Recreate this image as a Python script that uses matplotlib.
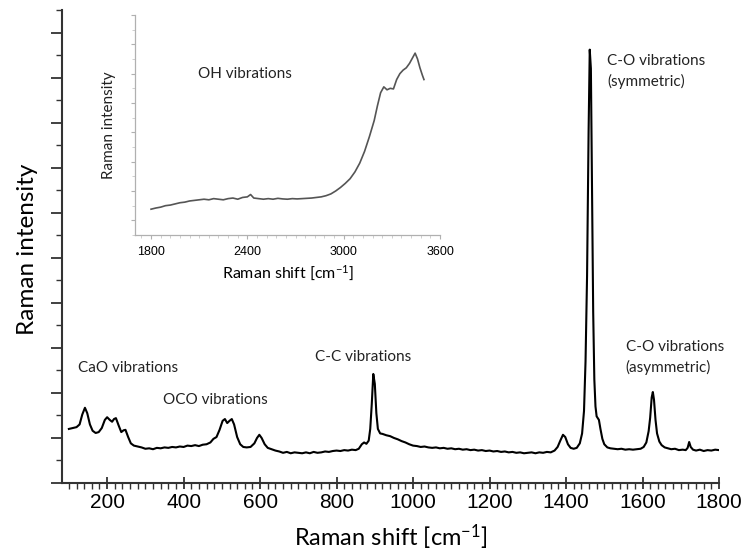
import matplotlib
matplotlib.use('Agg')
import matplotlib.pyplot as plt
from matplotlib.ticker import MultipleLocator, NullFormatter

plt.rcParams['mathtext.fontset'] = 'custom'
plt.rcParams['mathtext.rm'] = 'Lato'
plt.rcParams['mathtext.default'] = 'regular'

# main spectrum (Raman shift in cm-1, intensity in arbitrary units)
shift = [100, 110, 120, 128, 135, 142, 148, 155, 162, 170, 178, 186, 194, 200, 207, 213, 218, 223, 230, 237,
         243, 248, 255, 262, 270, 280, 290, 300, 310, 320, 330, 340, 350, 360, 370, 380, 390, 400, 410, 420,
         430, 440, 450, 460, 470, 478, 486, 494, 502, 508, 514, 520, 526, 532, 540, 548, 556, 565, 575, 585,
         592, 598, 604, 612, 620, 630, 640, 650, 660, 670, 680, 690, 700, 710, 720, 730, 740, 750, 760, 770,
         780, 790, 800, 810, 820, 830, 840, 850, 858, 866, 872, 878, 884, 888, 892, 896, 900, 904, 908, 914,
         920, 930, 940, 950, 960, 970, 980, 990, 1000, 1010, 1020, 1030, 1040, 1050, 1060, 1070, 1080, 1090,
         1100, 1110, 1120, 1130, 1140, 1150, 1160, 1170, 1180, 1190, 1200, 1210, 1220, 1230, 1240, 1250, 1260,
         1270, 1280, 1290, 1300, 1310, 1320, 1330, 1340, 1350, 1360, 1370, 1378, 1385, 1392, 1398, 1405, 1412,
         1420, 1428, 1436, 1442, 1447, 1451, 1455, 1459, 1462, 1465, 1468, 1471, 1474, 1477, 1480, 1483, 1486,
         1490, 1495, 1500, 1508, 1516, 1525, 1535, 1545, 1555, 1565, 1575, 1585, 1595, 1603, 1610, 1616, 1620,
         1624, 1627, 1630, 1634, 1638, 1644, 1650, 1658, 1666, 1675, 1685, 1695, 1705, 1713, 1718, 1722, 1726,
         1732, 1740, 1750, 1760, 1770, 1780, 1790, 1800]
intensity = [1.20, 1.22, 1.24, 1.30, 1.52, 1.67, 1.55, 1.30, 1.16, 1.11, 1.13, 1.22, 1.40, 1.46, 1.40, 1.36, 1.42,
             1.44, 1.28, 1.13, 1.17, 1.18, 1.02, 0.88, 0.83, 0.81, 0.79, 0.76, 0.77, 0.75, 0.78, 0.77, 0.79, 0.78,
             0.80, 0.79, 0.81, 0.80, 0.83, 0.82, 0.84, 0.82, 0.85, 0.86, 0.90, 0.98, 1.02, 1.18, 1.38, 1.42, 1.33,
             1.38, 1.42, 1.30, 1.02, 0.86, 0.80, 0.79, 0.80, 0.88, 1.00, 1.07, 1.00, 0.86, 0.78, 0.75, 0.72, 0.70,
             0.67, 0.69, 0.66, 0.68, 0.67, 0.66, 0.68, 0.66, 0.69, 0.67, 0.68, 0.70, 0.69, 0.71, 0.72, 0.71, 0.73,
             0.72, 0.74, 0.73, 0.76, 0.86, 0.90, 0.87, 0.94, 1.20, 1.75, 2.42, 2.20, 1.55, 1.20, 1.10, 1.09, 1.06,
             1.04, 1.00, 0.97, 0.93, 0.90, 0.86, 0.83, 0.82, 0.80, 0.81, 0.79, 0.78, 0.79, 0.77, 0.78, 0.76, 0.77,
             0.75, 0.76, 0.74, 0.75, 0.73, 0.74, 0.72, 0.73, 0.71, 0.72, 0.70, 0.71, 0.69, 0.70, 0.68, 0.69, 0.67,
             0.68, 0.66, 0.67, 0.68, 0.66, 0.68, 0.67, 0.69, 0.68, 0.72, 0.80, 0.94, 1.07, 1.02, 0.86, 0.78, 0.76,
             0.78, 0.88, 1.10, 1.60, 2.70, 4.60, 7.80, 9.62, 9.20, 6.60, 3.80, 2.30, 1.70, 1.48, 1.44, 1.40, 1.20,
             0.98, 0.86, 0.79, 0.77, 0.76, 0.75, 0.76, 0.74, 0.75, 0.74, 0.75, 0.76, 0.80, 0.90, 1.15, 1.45, 1.90,
             2.02, 1.85, 1.40, 1.10, 0.92, 0.84, 0.79, 0.77, 0.75, 0.76, 0.73, 0.74, 0.73, 0.78, 0.91, 0.80, 0.74,
             0.72, 0.74, 0.71, 0.73, 0.72, 0.74, 0.73]

# inset: OH stretching region
oh_shift = [1800, 1830, 1860, 1890, 1920, 1950, 1980, 2010, 2040, 2070, 2100, 2130, 2160, 2190, 2220, 2250,
            2280, 2310, 2340, 2370, 2400, 2420, 2440, 2470, 2500, 2530, 2560, 2590, 2620, 2650, 2680, 2710,
            2740, 2770, 2800, 2830, 2860, 2890, 2920, 2950, 2980, 3010, 3040, 3070, 3100, 3130, 3160, 3190,
            3210, 3230, 3250, 3270, 3290, 3310, 3330, 3350, 3370, 3390, 3410, 3430, 3445, 3460, 3475, 3490, 3500]
oh_intensity = [0.88, 0.92, 0.95, 1.00, 1.02, 1.06, 1.10, 1.12, 1.16, 1.18, 1.20, 1.22, 1.20, 1.24, 1.22, 1.20,
                1.24, 1.26, 1.22, 1.28, 1.30, 1.38, 1.26, 1.24, 1.22, 1.24, 1.22, 1.25, 1.23, 1.22, 1.24, 1.23,
                1.24, 1.25, 1.26, 1.28, 1.30, 1.34, 1.40, 1.50, 1.62, 1.76, 1.92, 2.15, 2.45, 2.85, 3.35, 3.90,
                4.40, 4.85, 5.05, 4.95, 5.00, 4.98, 5.30, 5.50, 5.62, 5.70, 5.85, 6.05, 6.20, 6.00, 5.70, 5.45, 5.30]

x_ticks = [200, 400, 600, 800, 1000, 1200, 1400, 1600, 1800]
inset_ticks = [1800, 2400, 3000, 3600]

fig = plt.figure(figsize=(7.45, 5.56), dpi=100)
ax = fig.add_axes([62 / 745, 1 - 483 / 556, 657 / 745, 473 / 556])

ax.plot(shift, intensity, color='black', linewidth=1.5)
ax.set_xlim(82, 1800)
ax.set_ylim(0, 10.5)
ax.set_xticks(x_ticks)
ax.xaxis.set_minor_locator(MultipleLocator(20))
ax.yaxis.set_major_locator(MultipleLocator(1))
ax.yaxis.set_minor_locator(MultipleLocator(0.5))
ax.yaxis.set_major_formatter(NullFormatter())
for side in ['top', 'right']:
    ax.spines[side].set_visible(False)
for side in ['left', 'bottom']:
    ax.spines[side].set_linewidth(1.5)
    ax.spines[side].set_color('#333333')
ax.tick_params(axis='x', which='major', direction='inout', length=8, width=1.3, color='#333333',
               labelsize=15, pad=3)
ax.tick_params(axis='x', which='minor', direction='out', length=4, width=1.0, color='#333333')
ax.tick_params(axis='y', which='major', direction='out', length=8, width=1.3, color='#333333')
ax.tick_params(axis='y', which='minor', direction='out', length=4, width=1.0, color='#333333')
for lbl in ax.get_xticklabels():
    lbl.set_family('Liberation Sans')

ax.set_xlabel('Raman shift [cm$^{-1}$]', family='Lato', fontsize=17, labelpad=8)
ax.set_ylabel('Raman intensity', family='Lato', fontsize=17.5)
ax.yaxis.set_label_coords(-0.052, 0.495)
ax.yaxis.label.set_va('center')

note = dict(family='Lato', fontsize=11, color='#222222')
ax.text(124, 2.56, 'CaO vibrations', va='center', ha='left', **note)
ax.text(346, 1.84, 'OCO vibrations', va='center', ha='left', **note)
ax.text(743, 2.8, 'C-C vibrations', va='center', ha='left', **note)
ax.text(1507, 9.13, 'C-O vibrations\n(symmetric)', va='center', ha='left', linespacing=1.45, **note)
ax.text(1556, 2.79, 'C-O vibrations\n(asymmetric)', va='center', ha='left', linespacing=1.45, **note)

# inset
ins = fig.add_axes([135 / 745, 1 - 235 / 556, 305 / 745, 220 / 556])
ins.plot(oh_shift, oh_intensity, color='#555555', linewidth=1.2)
ins.set_xlim(1700, 3600)
ins.set_ylim(0, 7.5)
ins.set_xticks(inset_ticks)
ins.xaxis.set_minor_locator(MultipleLocator(60))
ins.yaxis.set_major_locator(MultipleLocator(1, offset=0.5))
ins.yaxis.set_minor_locator(MultipleLocator(0.5))
ins.yaxis.set_major_formatter(NullFormatter())
for side in ['top', 'right']:
    ins.spines[side].set_visible(False)
for side in ['left', 'bottom']:
    ins.spines[side].set_linewidth(0.9)
    ins.spines[side].set_color('#b0b0b0')
ins.tick_params(which='major', direction='out', length=3, width=0.8, color='#b0b0b0', labelsize=9, pad=5)
ins.tick_params(which='minor', direction='out', length=2, width=0.6, color='#c8c8c8')
for lbl in ins.get_xticklabels():
    lbl.set_family('Liberation Sans')
ins.set_xlabel('Raman shift [cm$^{-1}$]', family='Lato', fontsize=11.5, labelpad=4)
ins.set_ylabel('Raman intensity', family='Lato', fontsize=11, labelpad=6, color='#222222')
ins.text(2091, 5.49, 'OH vibrations', va='center', ha='left', **note)

fig.savefig('out.png', dpi=100)
